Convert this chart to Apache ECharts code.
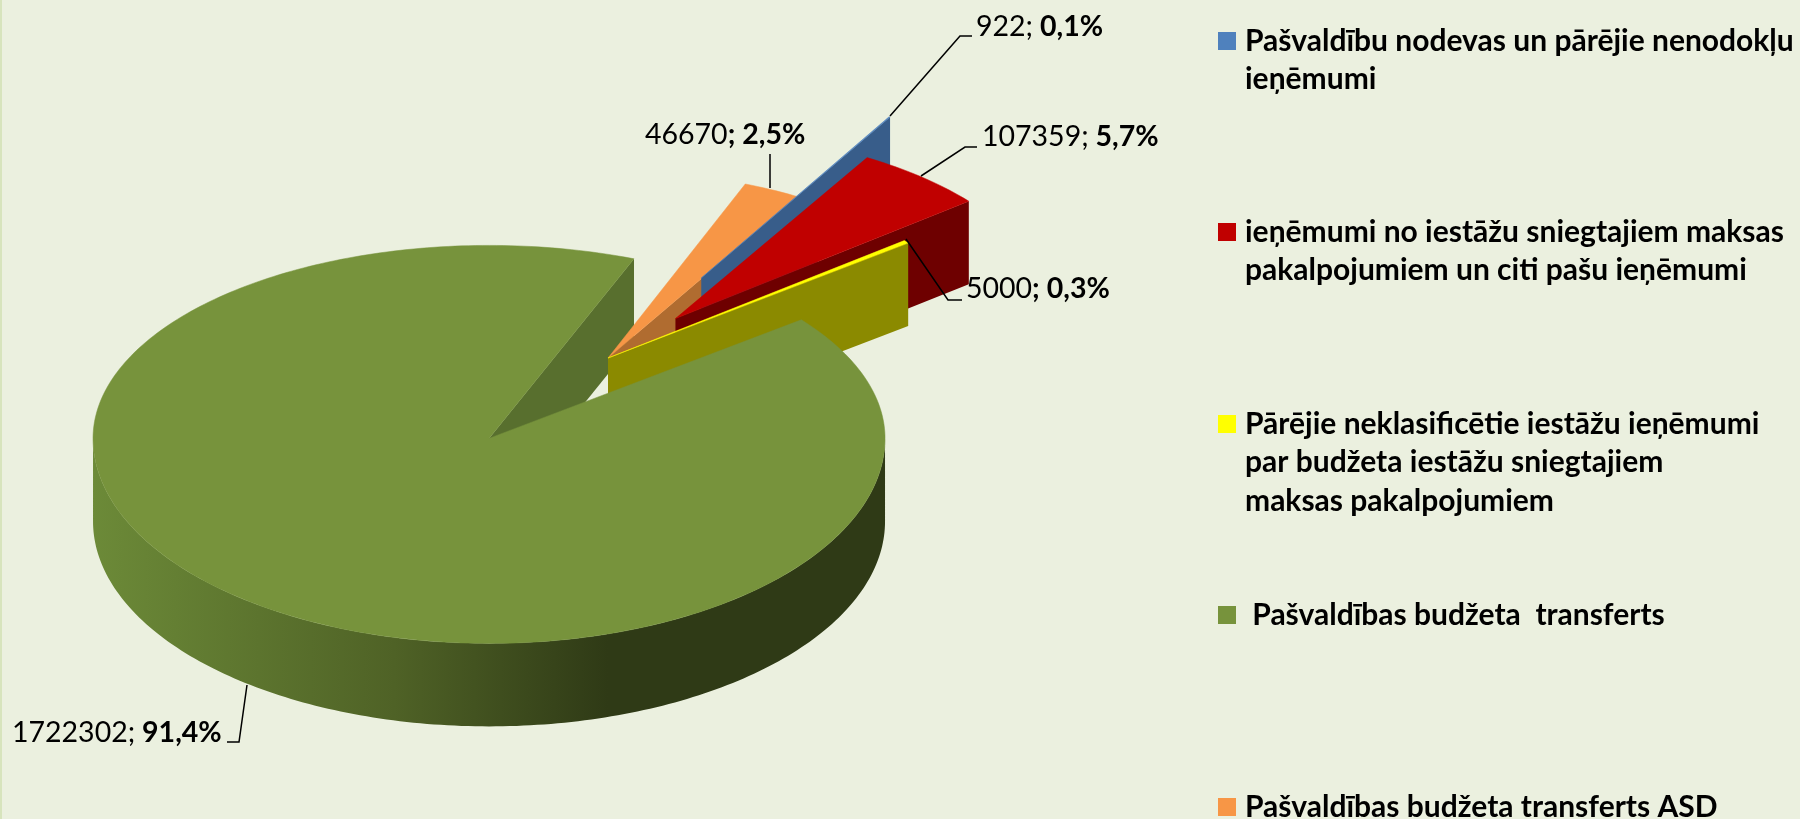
<!DOCTYPE html>
<html>
<head>
<meta charset="utf-8">
<style>
  html, body { margin: 0; padding: 0; background: #ebf0df; }
  #chart { width: 1800px; height: 819px; }
</style>
<script src="https://cdn.jsdelivr.net/npm/echarts@6/dist/echarts.min.js"></script>
</head>
<body>
<div id="chart"></div>
<script>
const categories = [
  'Pašvaldību nodevas un pārējie nenodokļu\nieņēmumi',
  'ieņēmumi no iestāžu sniegtajiem maksas\npakalpojumiem un citi pašu ieņēmumi',
  'Pārējie neklasificētie iestāžu ieņēmumi\npar budžeta iestāžu sniegtajiem\nmaksas pakalpojumiem',
  ' Pašvaldības budžeta  transferts',
  'Pašvaldības budžeta transferts ASD'
]
const values = [922, 107359, 5000, 1722302, 46670]
const shareLabels = ['0,1%', '5,7%', '0,3%', '91,4%', '2,5%']

// look of the slices
const topColors = ['#4f81bd', '#c00000', '#ffff00', '#77933c', '#f79646']
const wallColors = ['#385d8a', '#6e0000', '#8b8a00', '#586f2e', '#b06c30']
const explode = [0.49, 0.275, 0, 0.53, 0]
const radiusScale = [0.99, 1.005, 1.015, 1.056, 1]
const ryFar = [187, 187, 187, 193, 187]

// tilted pie
const cx = 608, cy = 358, R = 375
const tilt = 0.505, ryNear = 205, depth = 83
const startAngle = 30.4
const FONT = 'Lato'

const total = values.reduce((a, b) => a + b, 0)
const toAngle = v => echarts.number.linearMap(v, [0, total], [0, 360])

// from/to angle of each slice, clockwise from north
const ranges = []
let sum = 0
values.forEach(v => {
  ranges.push([startAngle + toAngle(sum), startAngle + toAngle(sum + v)])
  sum += v
})

const rad = d => d * Math.PI / 180

function apexOf(i) {
  const mid = rad((ranges[i][0] + ranges[i][1]) / 2)
  const off = explode[i] * R
  return [cx + off * Math.sin(mid), cy - off * tilt * Math.cos(mid)]
}

function rimPoint(i, deg) {
  const a = apexOf(i), t = rad(deg), c = Math.cos(t)
  return [
    a[0] + R * radiusScale[i] * Math.sin(t),
    a[1] - (c > 0 ? ryFar[i] : ryNear) * c
  ]
}

function arc(i, from, to) {
  const pts = []
  for (let d = from; d < to; d += 1) pts.push(rimPoint(i, d))
  pts.push(rimPoint(i, to))
  return pts
}

const down = p => [p[0], p[1] + depth]

// wall along the closing edge of the slice
function edgeWall(i) {
  const apex = apexOf(i)
  const tip = rimPoint(i, ranges[i][1])
  return {
    type: 'polygon',
    shape: { points: [apex, tip, down(tip), down(apex)] },
    style: { fill: wallColors[i] }
  }
}

function renderBody(i, withEdge) {
  const from = ranges[i][0], to = ranges[i][1]
  const children = withEdge ? [edgeWall(i)] : []

  // outer wall, only the near half of the rim shows
  const rimFrom = Math.max(from, 90), rimTo = Math.min(to, 270)
  if (rimTo > rimFrom) {
    const top = arc(i, rimFrom, rimTo)
    children.push({
      type: 'polygon',
      shape: { points: top.concat(top.map(down).reverse()) },
      style: {
        fill: new echarts.graphic.LinearGradient(1, 0, 0, 0, [
          { offset: 0, color: '#2f3a16' },
          { offset: 0.35, color: '#2f3a16' },
          { offset: 0.62, color: '#4f6226' },
          { offset: 1, color: '#6c8a38' }
        ])
      }
    })
  }

  // top face
  children.push({
    type: 'polygon',
    shape: { points: [apexOf(i)].concat(arc(i, from, to)) },
    style: { fill: topColors[i], stroke: topColors[i], lineWidth: 0.5 }
  })

  return { type: 'group', children: children }
}

// big slice: its inner wall sits behind the small slices, its top in front
const layers = [
  { slice: 3, render: () => edgeWall(3) },
  { slice: 4, render: () => renderBody(4, true) },
  { slice: 0, render: () => renderBody(0, true) },
  { slice: 1, render: () => renderBody(1, true) },
  { slice: 2, render: () => renderBody(2, true) },
  { slice: 3, render: () => renderBody(3, false) }
]

// callouts: text spot and leader, by slice
const calloutSpots = [
  { x: 976, y: 27, boldSep: false, line: [[890, 116], [960, 36], [972, 36]] },
  { x: 982, y: 137, boldSep: false, line: [[921, 176], [965, 147], [977, 147]] },
  { x: 966, y: 289, boldSep: true, line: [[906, 239], [948, 300], [962, 300]] },
  { x: 12, y: 733, boldSep: false, line: [[247, 685], [239, 742], [227, 742]] },
  { x: 645, y: 135, boldSep: true, line: [[770, 188], [770, 154]] }
]

const legendTops = [32, 223, 415, 606, 798]
const legendTextX = 1245

const graphics = [{
  type: 'rect', left: 0, top: 0, z: 0,
  shape: { width: 2, height: 819 },
  style: { fill: '#d7e4bd' }
}]

calloutSpots.forEach((c, i) => {
  graphics.push({
    type: 'polyline', z: 20,
    shape: { points: c.line },
    style: { stroke: '#000', lineWidth: 1.5, fill: null }
  })
  const head = values[i] + (c.boldSep ? '' : ';')
  const tail = (c.boldSep ? '; ' : ' ') + shareLabels[i]
  graphics.push({
    type: 'text', x: c.x, y: c.y, z: 20,
    style: {
      text: '{n|' + head + '}{p|' + tail + '}',
      verticalAlign: 'middle',
      rich: {
        n: { font: '28.5px ' + FONT, fill: '#000' },
        p: { font: 'bold 28.5px ' + FONT, fill: '#000' }
      }
    }
  })
})

categories.forEach((name, i) => {
  graphics.push({
    type: 'rect', x: 1218, y: legendTops[i], z: 20,
    shape: { width: 18, height: 18 },
    style: { fill: topColors[i] }
  })
  graphics.push({
    type: 'text', x: legendTextX, y: legendTops[i] - 10, z: 20,
    style: {
      text: name,
      font: 'bold 30px ' + FONT,
      lineHeight: 38.5,
      fill: '#000'
    }
  })
})

const chart = echarts.init(document.getElementById('chart'))
chart.setOption({
  backgroundColor: '#ebf0df',
  animation: false,
  tooltip: { show: false },
  graphic: graphics,
  series: layers.map((layer, order) => ({
    type: 'custom',
    name: categories[layer.slice],
    coordinateSystem: 'none',
    z: 2 + order,
    silent: true,
    data: [[values[layer.slice]]],
    renderItem: layer.render
  }))
})
</script>
</body>
</html>
